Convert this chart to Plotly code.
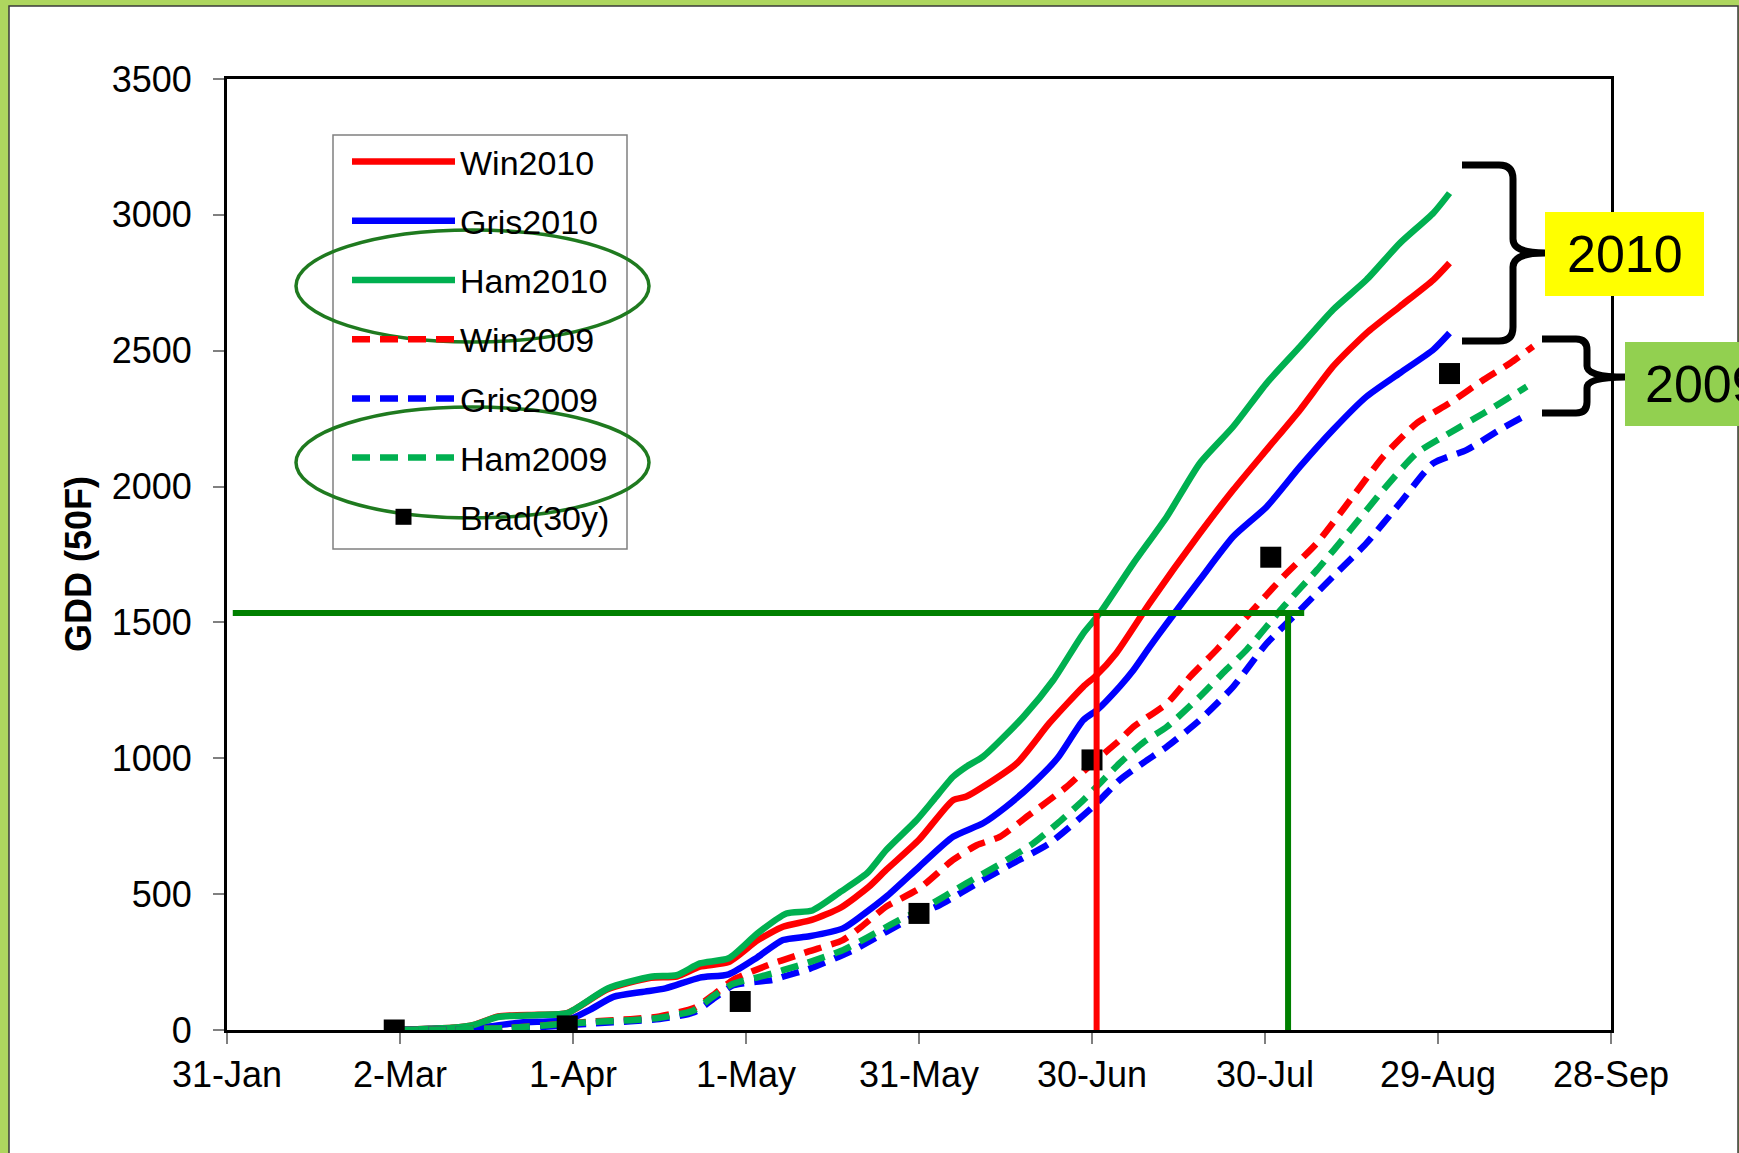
import plotly.graph_objects as go

# ---------------- data (day of year, 2010 calendar; GDD base 50F) ----------------
win2010_day = [61, 66, 70, 74, 78, 85, 90, 97, 104.5, 109, 113, 118, 123, 127.4, 132.4, 137.4, 142.3, 145.3, 151, 156.9, 159.2, 162.1, 168, 173.6, 179.5, 181.5, 185.2, 191, 199.7, 205.5, 211.3, 217.1, 222.8, 228.6, 234.4, 240.2, 243]
win2010_gdd = [0, 5, 8, 20, 50, 56, 62, 150, 192, 197, 233, 250, 330, 380, 405, 450, 527, 589, 700, 846, 859, 895, 982, 1129, 1264, 1300, 1387, 1571, 1828, 1988, 2136, 2283, 2442, 2565, 2663, 2761, 2823]

gris2010_day = [61, 66, 70, 76, 82, 90, 94, 98, 103, 107, 113, 118, 123, 127.4, 132, 137.8, 141, 145.3, 151, 156.9, 162.1, 166, 170.8, 175, 179.5, 182, 185.8, 188.2, 191, 194, 199.7, 205.5, 211.3, 217.1, 222.8, 228.6, 234.4, 240.2, 243]
gris2010_gdd = [0, 4, 6, 12, 28, 36, 75, 122, 140, 153, 193, 205, 268, 331, 345, 374, 420, 490, 600, 711, 761, 820, 908, 1000, 1141, 1180, 1264, 1325, 1410, 1497, 1657, 1816, 1926, 2074, 2209, 2331, 2418, 2504, 2565]

ham2010_day = [61, 66, 70, 74, 78, 85, 90, 97, 104.5, 109, 113, 118, 123, 128, 132.5, 137.5, 142, 145.3, 150.6, 153.5, 156.9, 159.2, 162.1, 169.1, 174.3, 179.5, 182.4, 188.2, 194, 199.7, 205.5, 211.3, 217.1, 222.8, 228.6, 234.4, 240.2, 243]
ham2010_gdd = [0, 5, 8, 20, 48, 55, 62, 153, 196, 202, 245, 264, 356, 429, 440, 510, 577, 662, 773, 846, 932, 969, 1006, 1153, 1288, 1460, 1535, 1718, 1890, 2086, 2221, 2381, 2516, 2651, 2761, 2896, 3007, 3080]

win2009_day = [61, 70, 80, 88.5, 95, 101, 106, 112, 115.7, 118.8, 122, 125.6, 127.4, 132, 137.8, 141, 145.3, 151, 156.9, 161, 165, 170, 176.6, 181, 185.8, 188.2, 194, 198, 202.6, 208.4, 214.2, 220, 225.8, 231.5, 237.3, 243, 248.9, 253.5, 257.5]
win2009_gdd = [0, 2, 8, 21, 32, 40, 50, 81, 135, 185, 215, 245, 257, 290, 331, 380, 454, 520, 626, 680, 711, 790, 895, 980, 1067, 1116, 1202, 1300, 1399, 1534, 1669, 1792, 1951, 2110, 2233, 2307, 2393, 2454, 2516]

gris2009_day = [61, 70, 80, 88.5, 95, 101, 106, 112, 115.7, 118.8, 125.6, 127.4, 132, 139.6, 145.4, 150.6, 154.6, 162.1, 167, 173.6, 181.2, 185.8, 190, 194, 199.7, 205.5, 211.3, 217.1, 222.8, 228.6, 234.4, 240.2, 246, 251.7, 256.9]
gris2009_gdd = [0, 1, 5, 15, 25, 32, 40, 65, 120, 165, 184, 196, 225, 294, 362, 423, 460, 552, 610, 687, 822, 920, 985, 1043, 1141, 1264, 1423, 1546, 1669, 1792, 1939, 2086, 2135, 2209, 2270]

ham2009_day = [61, 70, 80, 88.5, 95, 101, 106, 112, 115.7, 118.8, 125.6, 127.4, 132, 137.8, 142, 147.6, 152, 159.2, 165, 170.8, 175, 179.5, 185.8, 190, 194, 199.7, 204, 207.8, 214.2, 220, 225.8, 231.5, 237.3, 243, 248.9, 256.4]
ham2009_gdd = [0, 2, 8, 21, 30, 36, 45, 73, 130, 170, 208, 220, 250, 294, 340, 405, 450, 540, 610, 687, 760, 846, 982, 1060, 1116, 1227, 1320, 1399, 1558, 1693, 1840, 1988, 2123, 2197, 2270, 2368]

brad_day = [60, 90, 120, 151, 181, 212, 243]
brad_gdd = [0, 15, 105, 429, 994, 1740, 2416]

tick_days = [31, 61, 91, 121, 151, 181, 211, 241, 271]
tick_labels = ["31-Jan", "2-Mar", "1-Apr", "1-May", "31-May", "30-Jun", "30-Jul", "29-Aug", "28-Sep"]

threshold_gdd = 1535
hline_start_day = 32
hline_end_day = 217.8
win2010_cross_day = 181.8
ham2009_cross_day = 215

# ---------------- layout geometry (pixels) ----------------
W, H = 1739, 1153
ML, MR, MT, MB = 227, 128, 79, 123
PW, PH = W - ML - MR, H - MT - MB


def px(p):
    return (p - ML) / PW


def py(p):
    return (H - MB - p) / PH


FONT = "Liberation Sans, Arial, sans-serif"
RED, BLUE, GREEN = "#ff0000", "#0000ff", "#00b050"
DASH = "18px,10px"
LW = 6.5

fig = go.Figure()

series = [
    ("Win2010", win2010_day, win2010_gdd, RED, "solid"),
    ("Gris2010", gris2010_day, gris2010_gdd, BLUE, "solid"),
    ("Ham2010", ham2010_day, ham2010_gdd, GREEN, "solid"),
    ("Win2009", win2009_day, win2009_gdd, RED, DASH),
    ("Gris2009", gris2009_day, gris2009_gdd, BLUE, DASH),
    ("Ham2009", ham2009_day, ham2009_gdd, GREEN, DASH),
]
for name, xs, ys, col, dash in series:
    fig.add_trace(go.Scatter(x=xs, y=ys, mode="lines", name=name, legendgroup=name,
                             line=dict(color=col, width=LW, dash=dash, shape="spline", smoothing=0.6)))

fig.add_trace(go.Scatter(x=brad_day, y=brad_gdd, mode="markers", name="Brad(30y)", legendgroup="Brad",
                         marker=dict(symbol="square", size=21, color="black")))

shapes = []
# page frame (white slide panel over green background)
shapes.append(dict(type="rect", xref="paper", yref="paper", layer="below",
                   x0=px(9), x1=px(1738), y0=py(6), y1=py(1170),
                   fillcolor="white", line=dict(color="#3a3a3a", width=1.5)))

# legend frame
shapes.append(dict(type="rect", xref="paper", yref="paper", layer="above",
                   x0=px(333), x1=px(627), y0=py(549), y1=py(135),
                   line=dict(color="#808080", width=1.5)))

# reference lines
shapes.append(dict(type="line", xref="x", yref="y", layer="above",
                   x0=hline_start_day, x1=hline_end_day, y0=threshold_gdd, y1=threshold_gdd,
                   line=dict(color="#008000", width=6)))
shapes.append(dict(type="line", xref="x", yref="y", layer="above",
                   x0=win2010_cross_day, x1=win2010_cross_day, y0=0, y1=threshold_gdd,
                   line=dict(color="#ff0000", width=6)))
shapes.append(dict(type="line", xref="x", yref="y", layer="above",
                   x0=ham2009_cross_day, x1=ham2009_cross_day, y0=0, y1=threshold_gdd,
                   line=dict(color="#008000", width=6)))

# ellipses around Ham legend entries
for (y0, y1) in [(230, 342), (407, 518)]:
    shapes.append(dict(type="circle", xref="paper", yref="paper", layer="above",
                       x0=px(296), x1=px(649), y0=py(y1), y1=py(y0),
                       line=dict(color="#1f7a1f", width=3.5)))


def brace_path(xa, xv, xt, ytop, ymid, ybot, r):
    pts = []
    pts.append(f"M{px(xa)},{py(ytop)}")
    pts.append(f"L{px(xv - r)},{py(ytop)}")
    pts.append(f"Q{px(xv)},{py(ytop)} {px(xv)},{py(ytop + r)}")
    pts.append(f"L{px(xv)},{py(ymid - r)}")
    pts.append(f"Q{px(xv)},{py(ymid)} {px(xt)},{py(ymid)}")
    pts.append(f"Q{px(xv)},{py(ymid)} {px(xv)},{py(ymid + r)}")
    pts.append(f"L{px(xv)},{py(ybot - r)}")
    pts.append(f"Q{px(xv)},{py(ybot)} {px(xv - r)},{py(ybot)}")
    pts.append(f"L{px(xa)},{py(ybot)}")
    return " ".join(pts)


shapes.append(dict(type="path", xref="paper", yref="paper", layer="above",
                   path=brace_path(1462, 1513, 1545, 165, 253, 341, 14),
                   line=dict(color="black", width=7)))
shapes.append(dict(type="path", xref="paper", yref="paper", layer="above",
                   path=brace_path(1542, 1587, 1625, 339, 377, 413, 11),
                   line=dict(color="black", width=7)))

# year label boxes
shapes.append(dict(type="rect", xref="paper", yref="paper", layer="above",
                   x0=px(1545), x1=px(1704), y0=py(296), y1=py(212),
                   fillcolor="#ffff00", line=dict(width=0)))
shapes.append(dict(type="rect", xref="paper", yref="paper", layer="above",
                   x0=px(1625), x1=px(1800), y0=py(426), y1=py(342),
                   fillcolor="#92d050", line=dict(width=0)))

annotations = [
    dict(text="<b>GDD (50F)</b>", xref="paper", yref="paper", x=px(78), y=py(564), textangle=-90,
         showarrow=False, font=dict(family=FONT, size=36, color="black"), xanchor="center", yanchor="middle"),
    dict(text="2010", xref="paper", yref="paper", x=px(1624.5), y=py(254), showarrow=False,
         font=dict(family=FONT, size=52, color="black"), xanchor="center", yanchor="middle"),
    dict(text="2009", xref="paper", yref="paper", x=px(1643), y=py(384), showarrow=False,
         font=dict(family=FONT, size=52, color="black"), xanchor="left", yanchor="middle"),
]

fig.update_layout(
    width=W, height=H, autosize=False,
    margin=dict(l=ML, r=MR, t=MT, b=MB, pad=0),
    paper_bgcolor="#aed65f", plot_bgcolor="white",
    font=dict(family=FONT, size=36, color="black"),
    shapes=shapes, annotations=annotations,
    showlegend=True,
    legend=dict(x=px(347), y=py(133), xanchor="left", yanchor="top",
                bgcolor="rgba(0,0,0,0)", borderwidth=0,
                font=dict(family=FONT, size=34, color="black"),
                traceorder="grouped", tracegroupgap=12, itemwidth=103),
    xaxis=dict(range=[31, 271], tickmode="array", tickvals=tick_days, ticktext=tick_labels,
               showgrid=False, zeroline=False, showline=True, linecolor="black", linewidth=3, mirror=True,
               ticks="outside", ticklen=11, tickwidth=1.5, tickcolor="#808080",
               tickfont=dict(family=FONT, size=36, color="black")),
    yaxis=dict(range=[0, 3500], dtick=500, tick0=0,
               showgrid=False, zeroline=False, showline=True, linecolor="black", linewidth=3, mirror=True,
               ticks="outside", ticklen=11, tickwidth=1.5, tickcolor="#808080", ticklabelstandoff=14,
               tickfont=dict(family=FONT, size=36, color="black")),
)

fig.write_html("out.html")
